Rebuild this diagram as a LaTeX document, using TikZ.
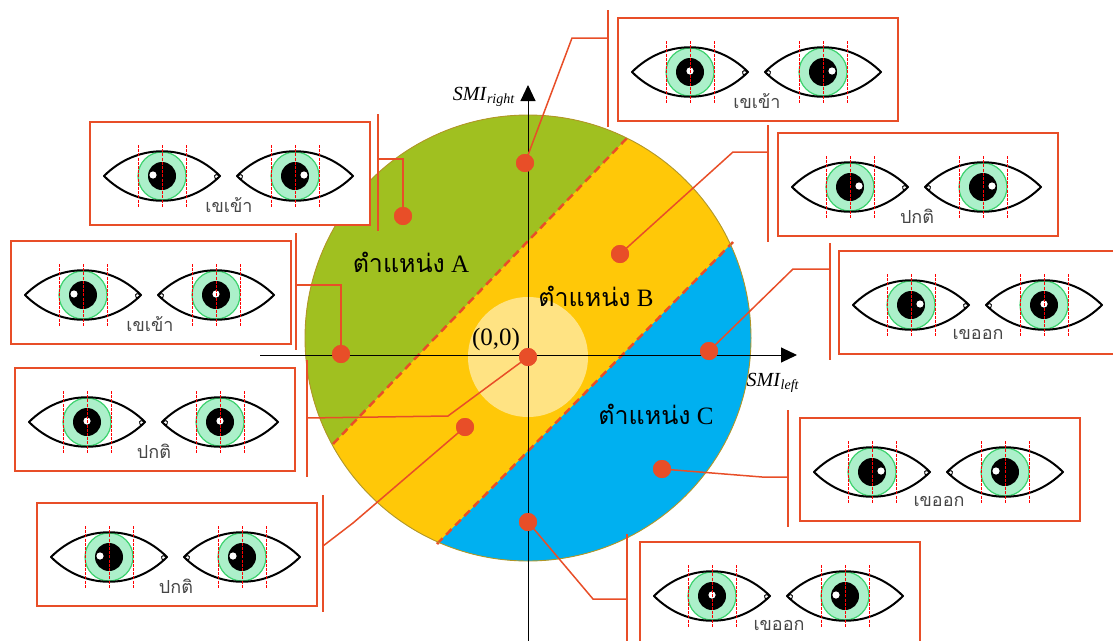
\documentclass[tikz,border=0pt]{standalone}
\usepackage{fontspec}
\setmainfont{Liberation Serif}
\newfontfamily\thaifont[Script=Thai]{Loma}
\usetikzlibrary{calc,arrows.meta}

\definecolor{zonea}{RGB}{160,192,32}
\definecolor{zoneb}{RGB}{255,200,8}
\definecolor{zonec}{RGB}{0,176,240}
\definecolor{marker}{RGB}{232,78,40}
\definecolor{rim}{RGB}{176,150,40}
\definecolor{irisfill}{RGB}{172,240,202}
\definecolor{irisline}{RGB}{60,210,110}
\definecolor{captiongray}{RGB}{70,70,70}

% one eye: #1 = side of the glint (-1,0,1), #2 = side of the inner corner
\tikzset{
  pics/eye/.style 2 args={code={
    \fill[white] (-58,0) .. controls (-25,-33) and (25,-33) .. (58,0)
      .. controls (25,33) and (-25,33) .. (-58,0) -- cycle;
    \draw[irisline, line width=1.2pt, fill=irisfill] (0,0) circle[radius=24pt];
    \fill[black] (0,0) circle[radius=14pt];
    \fill[white] ({#1*9},-1) circle[radius=3.6pt];
    \draw[line width=2pt, line join=round] (-58,0) .. controls (-25,-33) and (25,-33) .. (58,0)
      .. controls (25,33) and (-25,33) .. (-58,0) -- cycle;
    \draw[line width=0.9pt] ({#2*57},0) .. controls ({#2*52},-4) and ({#2*51},2) .. ({#2*55},4);
    \foreach \gx in {-24,0,24}
      \draw[red, line width=0.6pt, dash pattern=on 3pt off 1.2pt] (\gx,-31) -- (\gx,31);
  }}
}

\begin{document}
\begin{tikzpicture}[x=1pt, y=-1pt,
  spot/.style={circle, fill=marker, inner sep=0pt, minimum size=18pt},
  eyebox/.style={draw=marker, line width=1.8pt, fill=white, anchor=north west,
    minimum width=280pt, minimum height=103pt, inner sep=0pt},
  bracket/.style={marker, line width=1.5pt},
  link/.style={marker, line width=1.5pt},
  axisline/.style={line width=1pt, -{Triangle[length=16pt,width=15pt]}},
  zonelabel/.style={font=\fontsize{25}{28}\selectfont},
  eyecaption/.style={text=captiongray, font=\thaifont\fontsize{18}{20}\selectfont}]

  \useasboundingbox (0,0) rectangle (1113,640);
  \clip (0,0) rectangle (1113,640);

  \coordinate (ctr) at (528,338);
  \coordinate (O) at (528,355);
  % zone borders
  \coordinate (ua) at (333,444);
  \coordinate (ub) at (628,137);
  \coordinate (la) at (437,544);
  \coordinate (lb) at (733,242);

  % three zones
  \begin{scope}
    \clip (ctr) circle[radius=223pt];
    \fill[zoneb] (ctr) circle[radius=223pt];
    \fill[zonea] ($(ua)!-1!(ub)$) -- ($(ub)!-1!(ua)$) -- (0,-200) -- (0,800) -- cycle;
    \fill[zonec] ($(la)!-1!(lb)$) -- ($(lb)!-1!(la)$) -- (1200,-200) -- (1200,900) -- (100,900) -- cycle;
  \end{scope}
  \fill[white, opacity=0.5] (528,357) circle[radius=60pt];
  \draw[marker, line width=2.5pt, dash pattern=on 8pt off 5pt] (ua) -- (ub);
  \draw[marker, line width=2.5pt, dash pattern=on 8pt off 5pt] (la) -- (lb);
  \draw[rim, line width=0.9pt] (ctr) circle[radius=223pt];

  % axes
  \coordinate (xs) at (260,355);
  \coordinate (xe) at (797,355);
  \coordinate (ys) at (528,645);
  \coordinate (ye) at (528,85);
  \draw[axisline] (xs) -- (xe);
  \draw[axisline] (ys) -- (ye);
  \node (smir) at (484,97) {\fontsize{20}{24}\selectfont\textit{SMI}\textsubscript{\textit{right}}};
  \node (smil) at (773,383) {\fontsize{20}{24}\selectfont\textit{SMI}\textsubscript{\textit{left}}};

  % zone names
  \node[zonelabel] (lA) at (411,262) {{\thaifont ตำแหน่ง} A};
  \node[zonelabel] (lB) at (596,296) {{\thaifont ตำแหน่ง} B};
  \node[zonelabel] (lC) at (656,414) {{\thaifont ตำแหน่ง} C};
  \node[font=\fontsize{25}{28}\selectfont] (org) at (496,339) {(0,0)};

  % eye boxes with their brackets
  \foreach \n/\bx/\by/\l/\r/\txt/\kx/\ky in {
      1/617/17/0/1/เขเข้า/-9/21,
      2/89/121/-1/1/เขเข้า/289/38,
      3/10/240/-1/0/เขเข้า/286/45,
      4/14/367/0/0/ปกติ/293/51,
      5/36/502/-1/-1/ปกติ/287/44,
      6/777/132/1/1/ปกติ/-9/20,
      7/838/250/1/0/เขออก/-8/19,
      8/799/417/1/-1/เขออก/-11/60,
      9/639/541/0/-1/เขออก/-12/58} {
    \node[eyebox] (b\n) at (\bx,\by) {};
    \pic at ($(b\n.north west)+(73,55)$) {eye={\l}{1}};
    \pic at ($(b\n.north west)+(206,55)$) {eye={\r}{-1}};
    \node[eyecaption] (t\n) at ($(b\n.north west)+(140,84)$) {\txt};
    \draw[bracket] ($(b\n.north west)+(\kx,-7)$) -- ($(b\n.north west)+(\kx,110)$);
    \coordinate (k\n) at ($(b\n.north west)+(\kx,\ky)$);
  }

  % sample points
  \node[spot] (d1) at (525,163) {};
  \node[spot] (d2) at (403,216) {};
  \node[spot] (d3) at (341,354) {};
  \node[spot] (d4) at (528,357) {};
  \node[spot] (d5) at (620,254) {};
  \node[spot] (d6) at (465,427) {};
  \node[spot] (d7) at (709,351) {};
  \node[spot] (d8) at (662,469) {};
  \node[spot] (d9) at (528,522) {};

  % leaders
  \draw[link] (d1.center) -- (572,38) -- (k1);
  \draw[link] (d2.center) |- (k2);
  \draw[link] (d3.center) |- (k3);
  \draw[link] (d4.center) -- (448,416) -- (k4);
  \draw[link] (d6.center) -- (353,523) -- (k5);
  \draw[link] (d5.center) -- (733,152) -- (k6);
  \draw[link] (d7.center) -- (793,269) -- (k7);
  \draw[link] (d8.center) -- (762,477) -- (k8);
  \draw[link] (d9.center) -- (593,599) -- (k9);
  \foreach \n in {1,...,9}
    \fill[marker] (d\n) circle[radius=9pt];
\end{tikzpicture}
\end{document}
